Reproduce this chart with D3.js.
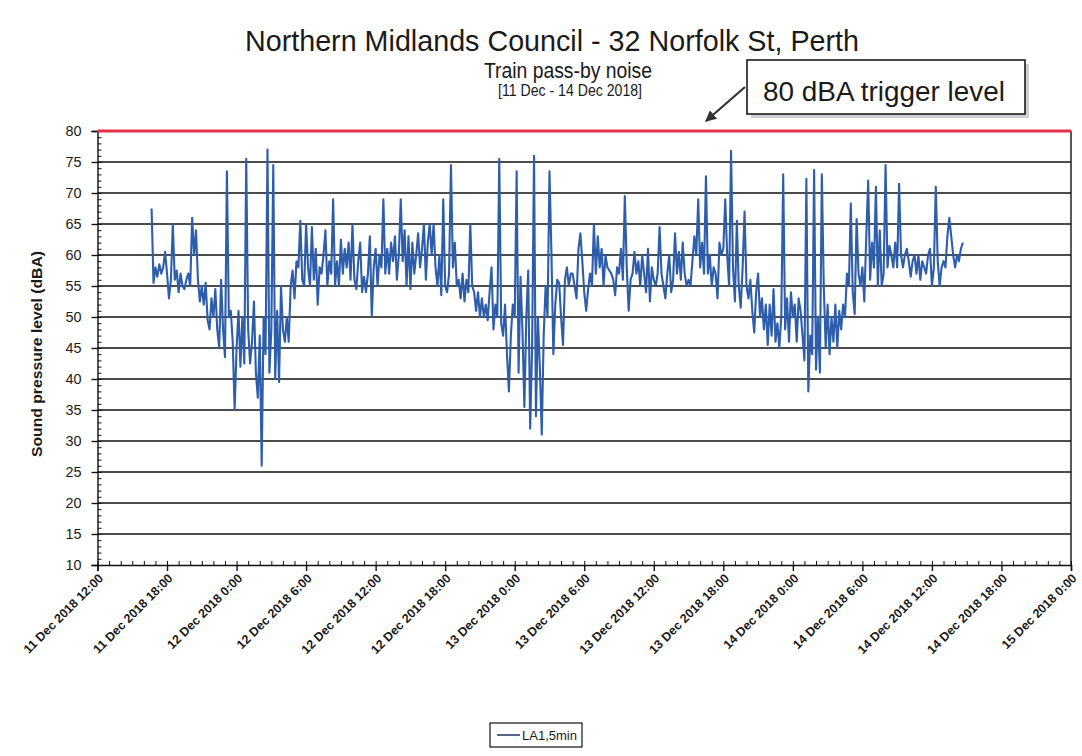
<!DOCTYPE html>
<html>
<head>
<meta charset="utf-8">
<script src="https://cdn.jsdelivr.net/npm/d3@7"></script>
<style>
  html, body { margin: 0; padding: 0; background: #ffffff; }
  svg { display: block; font-family: "Liberation Sans", Arial, sans-serif; }
</style>
</head>
<body>
<svg id="chart" width="1082" height="756"></svg>
<script>
// ---------------- DATA ----------------
const chartTitle = "Northern Midlands Council - 32 Norfolk St, Perth";
const chartSubtitle = "Train pass-by noise";
const chartDates = "[11 Dec - 14 Dec 2018]";
const yAxisTitle = "Sound pressure level (dBA)";
const seriesName = "LA1,5min";
const triggerLevel = 80;
const triggerLabel = "80 dBA trigger level";

const xDomain = ["2018-12-11T12:00:00Z", "2018-12-15T00:00:00Z"];
const yTicks = [10, 15, 20, 25, 30, 35, 40, 45, 50, 55, 60, 65, 70, 75, 80];
const seriesStart = "2018-12-11T16:40:00Z";
const seriesStepMinutes = 10;

// LA1,5min values (dBA), in time order
const valuesDay1 = [
  67.5,55.5,58,56.5,58.5,57,58,60.5,57,53,
  56,65,56,57.5,54,57,55,54.5,56,57,
  55,66,60,64,56,52.5,55,52,55.5,49.5,
  48,53,50,54.5,48,45,56,48,43.5,73.5,
  50,51,46,35,45,51,42,50,42.5,75.5,
  48,42.5,46,52.5,41,37,47,26,50,44,
  77,41,48,74.5,40,51,39.5,55,48,46,
  50,46,55,57.5,53,59,58,65.5,56,55,
  65,58,55,64.5,56,61,52,58,57,60,
  64,55,59,57,69,55,59,55,62.5,57,
  61,58,62,56,65,56,54.5,59,62
];
const valuesDay2 = [
  54,56.5,54,57,63,50,58,61,55,60,
  58,69,57,61,57,62,59,63,56,60,
  69,59,64,55,63,54.5,62,57,60,63.5,
  58,61,65,56,62,65,60,65,58,55,
  60,53.5,69,55,54,57,74.5,58,62,55,
  56,53,57,52.5,56,54,65,55,54,51,
  54,50,53,50,52,49.5,54,58,48,52,
  50,75.5,49,47,52,44,38,47,52,50,
  73.5,41,56.5,48,35.5,50,57.5,32,45,76,
  34,50,42,31,47,55,50,73.5,60.5,44,
  52,56,55.5,50,45.5,56,58,55,57
];
const valuesDay3 = [
  57,55,53,61,63.5,59,54,51,54.5,57,
  55,65,57,63,58,61,55,60,58,57.5,
  57,56,53.5,58,57,61,56,69.5,58,51,
  56,57,60.5,57,59,55,60,57,54,61,
  52.5,58,56,55,57,64.5,57,55,53,57,
  60,54,56,63.5,57,60.5,56,62,57,55,
  56,55,59,63,60,69,58,62,57,72.7,
  57,60,55,58,57,53,62,60,61,69,
  60,55,76.8,58,52.5,65.5,55,51.5,58,67,
  55,53,56,51,47.5,54,57,50,53,48,
  52,45.5,52,47,54.5,46,49,45,50,73
];
const valuesDay4 = [
  48,53,46,54,50,52,46,53,51,47,
  43,72.3,38,47,44,73.7,41.5,50,41,73,
  55,45,52,44,50,46,52,45,51,48,
  52,50,57,55,68.3,54,50.5,65.8,57,55,
  58,52.5,63,72,56,62,58,71,55,64,
  55,57,74.5,58,61.5,60,58,62,58,71.5,
  60,58,60,61,59,56.5,59,60,57,60,
  56,59,58,57,60,61,55,58,71,59,
  55,58,59,58,63,66,63,60,58,60,
  59,61,62
];

// ---------------- BUILD ----------------
const values = [].concat(valuesDay1, valuesDay2, valuesDay3, valuesDay4);
const t0 = new Date(seriesStart);
const series = values.map((v, i) => ({
  t: d3.utcMinute.offset(t0, i * seriesStepMinutes),
  v: v
}));

const svg = d3.select("#chart");
const plot = { left: 97.5, right: 1071, top: 131, bottom: 565 };

const x = d3.scaleUtc()
  .domain(xDomain.map(s => new Date(s)))
  .range([plot.left, plot.right]);
const y = d3.scaleLinear()
  .domain([10, 80])
  .range([plot.bottom, plot.top]);

// Titles (condensed look)
svg.append("text")
  .attr("x", 552).attr("y", 51)
  .attr("text-anchor", "middle")
  .attr("font-size", 29)
  .attr("textLength", 614).attr("lengthAdjust", "spacingAndGlyphs")
  .attr("fill", "#1a1a1a")
  .text(chartTitle);
svg.append("text")
  .attr("x", 568).attr("y", 78)
  .attr("text-anchor", "middle")
  .attr("font-size", 22)
  .attr("textLength", 168).attr("lengthAdjust", "spacingAndGlyphs")
  .attr("fill", "#1a1a1a")
  .text(chartSubtitle);
svg.append("text")
  .attr("x", 570).attr("y", 96)
  .attr("text-anchor", "middle")
  .attr("font-size", 16)
  .attr("textLength", 144).attr("lengthAdjust", "spacingAndGlyphs")
  .attr("fill", "#1a1a1a")
  .text(chartDates);

// Gridlines
const grid = svg.append("g");
grid.selectAll("line")
  .data(yTicks.filter(d => d > 10 && d < 80))
  .join("line")
  .attr("x1", plot.left).attr("x2", plot.right)
  .attr("y1", d => y(d)).attr("y2", d => y(d))
  .attr("stroke", "#111").attr("stroke-width", 1.4);

// Right border
svg.append("line")
  .attr("x1", plot.right).attr("x2", plot.right)
  .attr("y1", plot.top).attr("y2", plot.bottom)
  .attr("stroke", "#111").attr("stroke-width", 1.4);

// Y axis
const yMinor = d3.range(10, 81, 1);
svg.append("g")
  .attr("transform", `translate(${plot.left},0)`)
  .call(d3.axisLeft(y).tickValues(yMinor).tickSize(-4).tickFormat(""))
  .call(g => g.select(".domain").remove())
  .call(g => g.selectAll("line").attr("stroke", "#111").attr("stroke-width", 1));
const yAxis = svg.append("g")
  .attr("transform", `translate(${plot.left},0)`)
  .call(d3.axisLeft(y).tickValues(yTicks).tickSize(6).tickPadding(10).tickFormat(d3.format("d")));
yAxis.select(".domain").attr("stroke", "#111").attr("stroke-width", 1.4);
yAxis.selectAll("line").attr("stroke", "#111").attr("stroke-width", 1.4);
yAxis.selectAll("text")
  .attr("font-size", 15).attr("fill", "#1a1a1a")
  .attr("font-family", "Liberation Sans, Arial, sans-serif")
  .attr("textLength", 16).attr("lengthAdjust", "spacingAndGlyphs");

// X axis
const xMajor = d3.utcHour.every(6).range(x.domain()[0], d3.utcMinute.offset(x.domain()[1], 1));
const xMinor = d3.utcHour.every(1).range(x.domain()[0], d3.utcMinute.offset(x.domain()[1], 1));
svg.append("g")
  .attr("transform", `translate(0,${plot.bottom})`)
  .call(d3.axisBottom(x).tickValues(xMinor).tickSize(-4).tickFormat(""))
  .call(g => g.select(".domain").remove())
  .call(g => g.selectAll("line").attr("stroke", "#111").attr("stroke-width", 1));
const fmt = d3.utcFormat("%-d %b %Y %-H:%M");
const xAxis = svg.append("g")
  .attr("transform", `translate(0,${plot.bottom})`)
  .call(d3.axisBottom(x).tickValues(xMajor).tickSize(6).tickFormat(fmt));
xAxis.select(".domain").attr("stroke", "#111").attr("stroke-width", 1.4);
xAxis.selectAll("line").attr("stroke", "#111").attr("stroke-width", 1.4);
xAxis.selectAll("text")
  .attr("font-size", 12.5).attr("font-weight", "bold").attr("fill", "#1a1a1a")
  .attr("font-family", "Liberation Sans, Arial, sans-serif")
  .attr("text-anchor", "end")
  .attr("dy", 0)
  .attr("y", 0)
  .attr("transform", "translate(6,14) rotate(-45)");

// Y axis title
svg.append("text")
  .attr("transform", "translate(42,354) rotate(-90)")
  .attr("text-anchor", "middle")
  .attr("font-size", 15).attr("font-weight", "bold")
  .attr("textLength", 206).attr("lengthAdjust", "spacingAndGlyphs")
  .attr("fill", "#1a1a1a")
  .text(yAxisTitle);

// Data line
const line = d3.line().x(d => x(d.t)).y(d => y(d.v));
svg.append("path")
  .datum(series)
  .attr("d", line)
  .attr("fill", "none")
  .attr("stroke", "#2d5dab")
  .attr("stroke-width", 2.1)
  .attr("stroke-linejoin", "round");

// Trigger line
svg.append("line")
  .attr("x1", plot.left).attr("x2", plot.right)
  .attr("y1", y(triggerLevel)).attr("y2", y(triggerLevel))
  .attr("stroke", "#e4304a").attr("stroke-width", 3);

// Annotation box with shadow
svg.append("rect")
  .attr("x", 751).attr("y", 64).attr("width", 278).attr("height", 54)
  .attr("fill", "#b8b8c0").attr("opacity", 0.7);
svg.append("rect")
  .attr("x", 747).attr("y", 60).attr("width", 278).attr("height", 54)
  .attr("fill", "#ffffff").attr("stroke", "#1a1a1a").attr("stroke-width", 1.6);
svg.append("text")
  .attr("x", 763).attr("y", 101)
  .attr("font-size", 27)
  .attr("textLength", 242).attr("lengthAdjust", "spacingAndGlyphs")
  .attr("fill", "#1a1a1a")
  .text(triggerLabel);

// Arrow
svg.append("defs").append("marker")
  .attr("id", "arrowhead")
  .attr("viewBox", "0 0 10 10").attr("refX", 9).attr("refY", 5)
  .attr("markerWidth", 5).attr("markerHeight", 5)
  .attr("orient", "auto")
  .append("path").attr("d", "M0,0 L10,5 L0,10 Z").attr("fill", "#333");
svg.append("line")
  .attr("x1", 745).attr("y1", 87).attr("x2", 706).attr("y2", 121)
  .attr("stroke", "#333").attr("stroke-width", 2.2)
  .attr("marker-end", "url(#arrowhead)");

// Legend
const lg = svg.append("g");
lg.append("rect")
  .attr("x", 490).attr("y", 723).attr("width", 92).attr("height", 24)
  .attr("fill", "#fff").attr("stroke", "#111").attr("stroke-width", 1.2);
lg.append("line")
  .attr("x1", 497).attr("x2", 520).attr("y1", 735).attr("y2", 735)
  .attr("stroke", "#2b3d6e").attr("stroke-width", 1.6);
lg.append("text")
  .attr("x", 522).attr("y", 740)
  .attr("font-size", 13).attr("fill", "#1a1a1a")
  .text(seriesName);
</script>
</body>
</html>
